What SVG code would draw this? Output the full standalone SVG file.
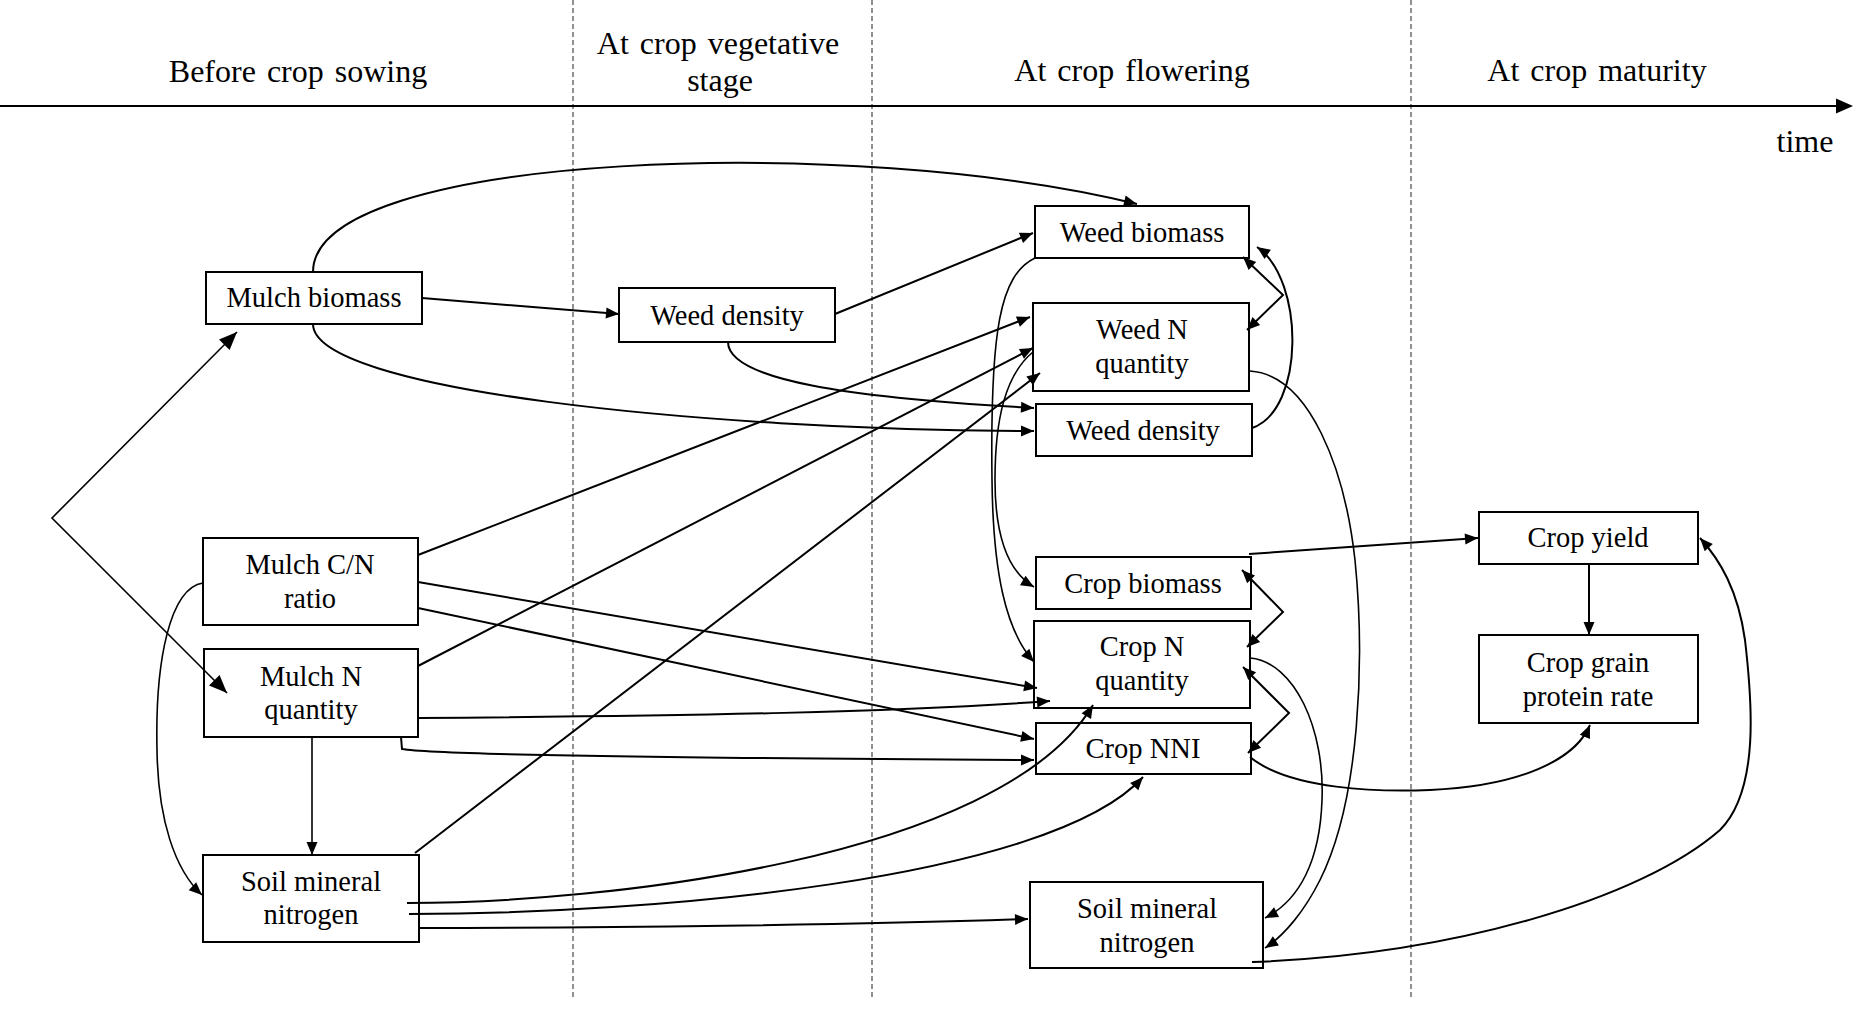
<svg xmlns="http://www.w3.org/2000/svg" width="1856" height="1010" viewBox="0 0 1856 1010">
<style>
.hdr{font-family:"Liberation Serif","Times New Roman",serif;font-size:32px;fill:#000;text-anchor:middle;word-spacing:3px}
.lbl{font-family:"Liberation Serif","Times New Roman",serif;font-size:28.5px;fill:#000;text-anchor:middle}
.box{fill:none;stroke:#000;stroke-width:2}
.dash{stroke:#555;stroke-width:1.3;stroke-dasharray:5 3;fill:none}
.c{fill:none;stroke:#000;stroke-width:2}
.cb{fill:none;stroke:#000;stroke-width:1.6}
</style>
<defs>
<marker id="ah" markerUnits="userSpaceOnUse" markerWidth="16" markerHeight="14" refX="13" refY="5.5" orient="auto-start-reverse" overflow="visible"><path d="M0,0 L13,5.5 L0,11 z" fill="#000"/></marker>
<marker id="ahL" markerUnits="userSpaceOnUse" markerWidth="20" markerHeight="18" refX="18" refY="7.5" orient="auto-start-reverse" overflow="visible"><path d="M0,0 L18,7.5 L0,15 z" fill="#000"/></marker>
</defs>
<rect x="0" y="0" width="1856" height="1010" fill="#fff"/>
<g id="timeline">
<line class="dash" x1="573" y1="0" x2="573" y2="998"/>
<line class="dash" x1="872" y1="0" x2="872" y2="998"/>
<line class="dash" x1="1411" y1="0" x2="1411" y2="998"/>
<line x1="0" y1="106" x2="1840" y2="106" stroke="#000" stroke-width="2.2"/>
<polygon points="1853,106 1836,98.5 1836,113.5" fill="#000"/>
<text class="hdr" x="298" y="82">Before crop sowing</text>
<text class="hdr" x="718" y="54">At crop vegetative</text>
<text class="hdr" x="720" y="91">stage</text>
<text class="hdr" x="1132" y="81">At crop flowering</text>
<text class="hdr" x="1597" y="81">At crop maturity</text>
<text class="hdr" x="1805" y="152">time</text>
</g>
<g id="connectors">
<path class="cb" d="M237,332 L52,518 L227,693" marker-start="url(#ahL)" marker-end="url(#ahL)"/>
<path class="c" d="M313,272 C313,150 860,135 1137,204" marker-end="url(#ah)"/>
<path class="c" d="M422,298 L619,314" marker-end="url(#ah)"/>
<path class="c" d="M313,324 C313,390 700,430 1034,431" marker-end="url(#ah)"/>
<path class="c" d="M728,342 C728,380 850,398 1034,408" marker-end="url(#ah)"/>
<path class="c" d="M835,314 L1033,233" marker-end="url(#ah)"/>
<path class="c" d="M418,555 L1030,317" marker-end="url(#ah)"/>
<path class="c" d="M418,582 L1037,688" marker-end="url(#ah)"/>
<path class="c" d="M418,608 L1034,739" marker-end="url(#ah)"/>
<path class="c" d="M418,666 L1033,348" marker-end="url(#ah)"/>
<path class="c" d="M418,718 C700,716 900,712 1050,701" marker-end="url(#ah)"/>
<path class="c" d="M401,737 L402,749 C430,754 650,758 1034,760" marker-end="url(#ah)"/>
<path class="cb" d="M312,737 L312,855" marker-end="url(#ah)"/>
<path class="cb" d="M203,583 C170,588 155,660 157,750 C158,820 175,870 202,895" marker-end="url(#ah)"/>
<path class="c" d="M415,853 L1040,373" marker-end="url(#ah)"/>
<path class="c" d="M407,903 C600,903 1000,860 1093,705" marker-end="url(#ah)"/>
<path class="c" d="M409,914 C650,914 1050,880 1143,777" marker-end="url(#ah)"/>
<path class="c" d="M419,928 C600,928 850,925 1028,919" marker-end="url(#ah)"/>
<path class="cb" d="M1035,258 C1000,275 990,330 992,480 C993,570 1005,630 1034,662" marker-end="url(#ah)"/>
<path class="cb" d="M1033,352 C1005,375 995,420 995,480 C995,530 1005,570 1034,587" marker-end="url(#ah)"/>
<path class="c" d="M1243,257 L1283,295 L1247,330" marker-start="url(#ah)" marker-end="url(#ah)"/>
<path class="c" d="M1252,428 C1305,410 1305,280 1257,247" marker-end="url(#ah)"/>
<path class="cb" d="M1250,371 C1310,375 1345,470 1355,560 C1365,660 1360,800 1320,880 C1305,910 1285,935 1265,948" marker-end="url(#ah)"/>
<path class="cb" d="M1250,658 C1295,662 1325,730 1322,800 C1320,860 1300,900 1265,918" marker-end="url(#ah)"/>
<path class="c" d="M1242,570 L1283,612 L1247,647" marker-start="url(#ah)" marker-end="url(#ah)"/>
<path class="c" d="M1243,667 L1289,713 L1248,753" marker-start="url(#ah)" marker-end="url(#ah)"/>
<path class="c" d="M1249,554 L1478,538" marker-end="url(#ah)"/>
<path class="c" d="M1589,564 L1589,635" marker-end="url(#ah)"/>
<path class="c" d="M1250,757 C1290,790 1380,792 1430,790 C1520,786 1575,760 1590,725" marker-end="url(#ah)"/>
<path class="c" d="M1252,962 C1450,955 1640,900 1720,830 C1760,790 1752,700 1745,640 C1738,590 1720,560 1700,538" marker-end="url(#ah)"/>
</g>
<g id="mulch-biomass"><rect class="box" x="206" y="272" width="216" height="52"/><text class="lbl" x="314" y="307">Mulch biomass</text></g>
<g id="weed-density-veg"><rect class="box" x="619" y="288" width="216" height="54"/><text class="lbl" x="727" y="325">Weed density</text></g>
<g id="mulch-cn"><rect class="box" x="203" y="538" width="215" height="87"/><text class="lbl" x="310" y="574">Mulch C/N</text><text class="lbl" x="310" y="608">ratio</text></g>
<g id="mulch-n"><rect class="box" x="204" y="649" width="214" height="88"/><text class="lbl" x="311" y="686">Mulch N</text><text class="lbl" x="311" y="719">quantity</text></g>
<g id="soil-n-before"><rect class="box" x="203" y="855" width="216" height="87"/><text class="lbl" x="311" y="891">Soil mineral</text><text class="lbl" x="311" y="924">nitrogen</text></g>
<g id="weed-biomass"><rect class="box" x="1035" y="206" width="214" height="52"/><text class="lbl" x="1142" y="242">Weed biomass</text></g>
<g id="weed-n"><rect class="box" x="1033" y="303" width="216" height="88"/><text class="lbl" x="1142" y="339">Weed N</text><text class="lbl" x="1142" y="373">quantity</text></g>
<g id="weed-density-flow"><rect class="box" x="1036" y="404" width="216" height="52"/><text class="lbl" x="1143" y="440">Weed density</text></g>
<g id="crop-biomass"><rect class="box" x="1036" y="557" width="215" height="52"/><text class="lbl" x="1143" y="593">Crop biomass</text></g>
<g id="crop-n"><rect class="box" x="1034" y="621" width="216" height="87"/><text class="lbl" x="1142" y="656">Crop N</text><text class="lbl" x="1142" y="690">quantity</text></g>
<g id="crop-nni"><rect class="box" x="1036" y="723" width="215" height="51"/><text class="lbl" x="1143" y="758">Crop NNI</text></g>
<g id="soil-n-flow"><rect class="box" x="1030" y="882" width="233" height="86"/><text class="lbl" x="1147" y="918">Soil mineral</text><text class="lbl" x="1147" y="952">nitrogen</text></g>
<g id="crop-yield"><rect class="box" x="1479" y="512" width="219" height="52"/><text class="lbl" x="1588" y="547">Crop yield</text></g>
<g id="crop-grain"><rect class="box" x="1479" y="635" width="219" height="88"/><text class="lbl" x="1588" y="672">Crop grain</text><text class="lbl" x="1588" y="706">protein rate</text></g>
</svg>
